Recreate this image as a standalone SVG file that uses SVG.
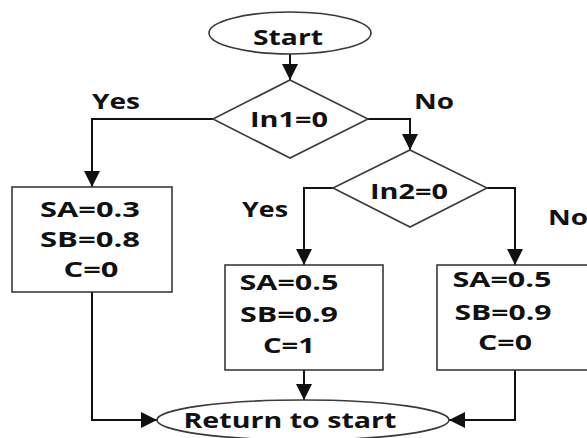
<svg xmlns="http://www.w3.org/2000/svg" width="587" height="438" viewBox="0 0 587 438">
<style>
.shape{fill:#fff;stroke:#3a3a3a;stroke-width:1.6}
.conn{fill:none;stroke:#111;stroke-width:2}
text{font-family:"Open Sans","DejaVu Sans",sans-serif;font-weight:bold;font-size:21px;fill:#111;text-anchor:middle}
</style>
<defs>
<marker id="arr" markerUnits="userSpaceOnUse" markerWidth="16" markerHeight="16" refX="14" refY="7" orient="auto" viewBox="0 0 14 14">
<path d="M0,0 L14,7 L0,14 z" fill="#111"/>
</marker>
</defs>
<rect width="587" height="438" fill="#fff"/>
<g id="connectors">
<path class="conn" d="M290,54 L290,80" marker-end="url(#arr)"/>
<path class="conn" d="M213,119 L92,119 L92,187" marker-end="url(#arr)"/>
<path class="conn" d="M368,119 L410,119 L410,150" marker-end="url(#arr)"/>
<path class="conn" d="M333,188 L304,188 L304,265" marker-end="url(#arr)"/>
<path class="conn" d="M487,188 L515,188 L515,265" marker-end="url(#arr)"/>
<path class="conn" d="M92,292 L92,420 L157,420" marker-end="url(#arr)"/>
<path class="conn" d="M304,370 L304,400" marker-end="url(#arr)"/>
<path class="conn" d="M515,370 L515,420 L449,420" marker-end="url(#arr)"/>
</g>
<g id="labels">
<text x="116" y="109" textLength="48" lengthAdjust="spacingAndGlyphs">Yes</text>
<text x="434" y="109" textLength="40" lengthAdjust="spacingAndGlyphs">No</text>
<text x="265" y="217" textLength="46" lengthAdjust="spacingAndGlyphs">Yes</text>
<text x="568" y="225" textLength="40" lengthAdjust="spacingAndGlyphs">No</text>
</g>
<g id="start">
<ellipse class="shape" cx="290" cy="33" rx="81" ry="21"/>
<text x="288" y="45" textLength="70" lengthAdjust="spacingAndGlyphs">Start</text>
</g>
<g id="in1">
<polygon class="shape" points="290,80 368,119 290,158 213,119"/>
<text x="289" y="127" textLength="78" lengthAdjust="spacingAndGlyphs">In1=0</text>
</g>
<g id="in2">
<polygon class="shape" points="410,150 487,188 410,227 333,188"/>
<text x="409" y="199" textLength="78" lengthAdjust="spacingAndGlyphs">In2=0</text>
</g>
<g id="box1">
<rect class="shape" x="12" y="187" width="160" height="105"/>
<text x="90" y="217" textLength="100" lengthAdjust="spacingAndGlyphs">SA=0.3</text>
<text x="90" y="247" textLength="100" lengthAdjust="spacingAndGlyphs">SB=0.8</text>
<text x="91" y="277" textLength="55" lengthAdjust="spacingAndGlyphs">C=0</text>
</g>
<g id="box2">
<rect class="shape" x="225" y="265" width="158" height="105"/>
<text x="289" y="290" textLength="99" lengthAdjust="spacingAndGlyphs">SA=0.5</text>
<text x="289" y="322" textLength="98" lengthAdjust="spacingAndGlyphs">SB=0.9</text>
<text x="289" y="353" textLength="52" lengthAdjust="spacingAndGlyphs">C=1</text>
</g>
<g id="box3">
<rect class="shape" x="437" y="265" width="160" height="105"/>
<text x="502" y="287" textLength="99" lengthAdjust="spacingAndGlyphs">SA=0.5</text>
<text x="503" y="320" textLength="97" lengthAdjust="spacingAndGlyphs">SB=0.9</text>
<text x="505" y="350" textLength="54" lengthAdjust="spacingAndGlyphs">C=0</text>
</g>
<g id="return">
<ellipse class="shape" cx="303" cy="420" rx="146" ry="20"/>
<text x="290" y="428" textLength="213" lengthAdjust="spacingAndGlyphs">Return to start</text>
</g>
</svg>
